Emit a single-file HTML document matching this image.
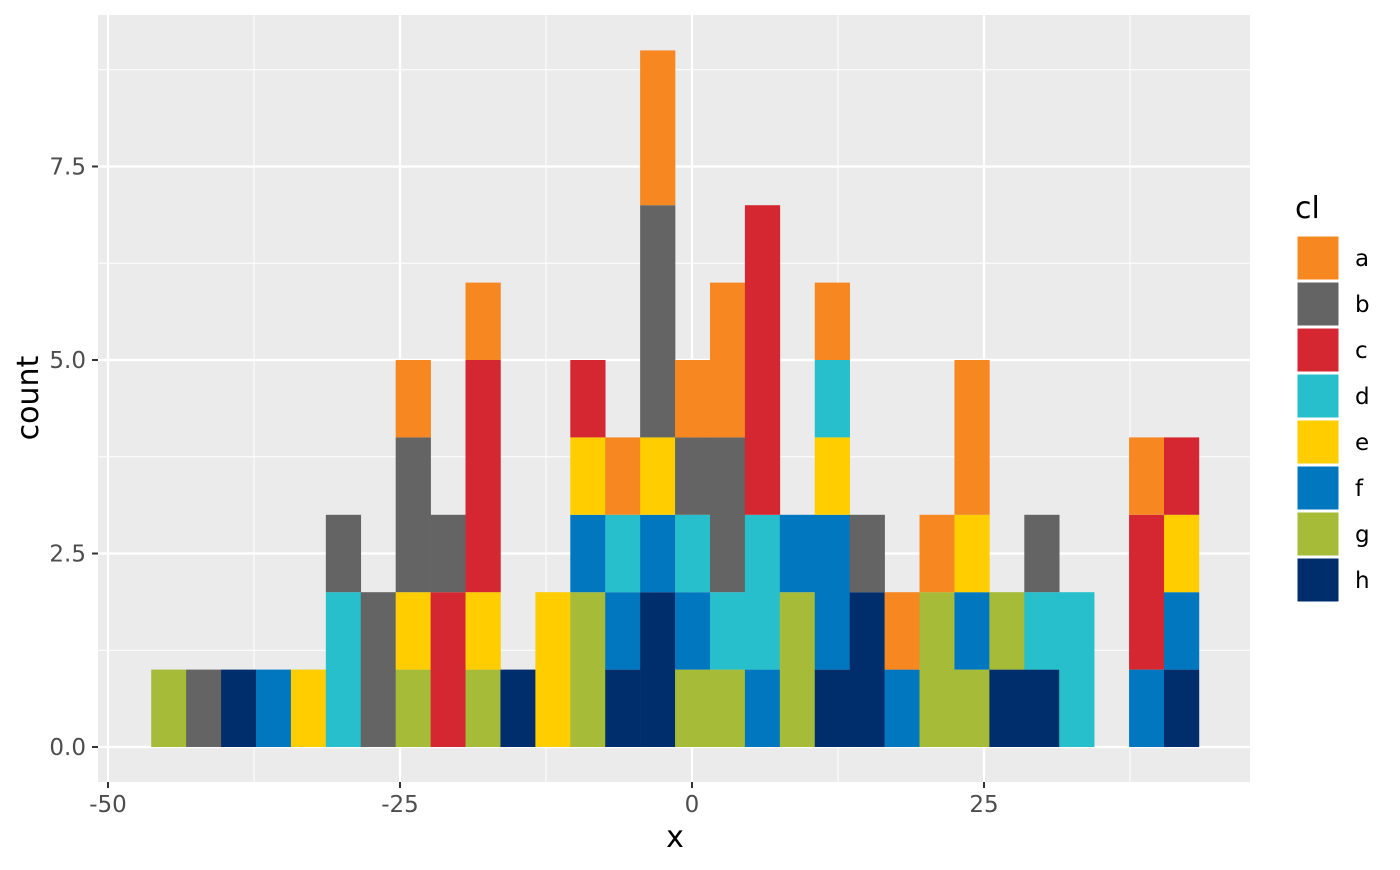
<!DOCTYPE html>
<html><head><meta charset="utf-8"><style>
body{margin:0;background:#fff;font-family:"DejaVu Sans","Liberation Sans",sans-serif;}
</style></head><body>
<svg id="chart" width="1400" height="866" xmlns="http://www.w3.org/2000/svg" font-family="DejaVu Sans, Liberation Sans, sans-serif">
<rect x="98" y="15" width="1152" height="767" fill="#ebebeb"/>
<g id="grid"></g><g id="bars"></g><g id="axes"></g><g id="legend"></g>
<text x="675" y="847" font-size="30" text-anchor="middle" fill="#000">x</text>
<text transform="translate(38,398) rotate(-90)" font-size="30" text-anchor="middle" fill="#000">count</text>
<text x="1295" y="218" font-size="30" fill="#000">cl</text>
</svg>
<script>
const categories=["a","b","c","d","e","f","g","h"];
const colors=["#f68721","#636463","#d42731","#27bfcb","#ffcd00","#0077bf","#a6bb38","#002e6c"];
const binStart=-46.3, binWidth=2.99;
const seriesA=[0,0,0,0,0,0,0,1,0,1,0,0,0,1,2,1,2,0,0,1,0,1,1,2,0,0,0,0,1,0];
const seriesB=[0,1,0,0,0,1,2,2,1,0,0,0,0,0,3,1,2,0,0,0,1,0,0,0,0,1,0,0,0,0];
const seriesC=[0,0,0,0,0,0,0,0,2,3,0,0,1,0,0,0,0,4,0,0,0,0,0,0,0,0,0,0,2,1];
const seriesD=[0,0,0,0,0,2,0,0,0,0,0,0,0,1,0,1,1,2,0,1,0,0,0,0,0,1,2,0,0,0];
const seriesE=[0,0,0,0,1,0,0,1,0,1,0,2,1,0,1,0,0,0,0,1,0,0,0,1,0,0,0,0,0,1];
const seriesF=[0,0,0,1,0,0,0,0,0,0,0,0,1,1,1,1,0,1,1,2,0,1,0,1,0,0,0,0,1,1];
const seriesG=[1,0,0,0,0,0,0,1,0,1,0,0,2,0,0,1,1,0,2,0,0,0,2,1,1,0,0,0,0,0];
const seriesH=[0,0,1,0,0,0,0,0,0,0,1,0,0,1,2,0,0,0,0,1,2,0,0,0,1,1,0,0,0,1];
const series=[seriesA,seriesB,seriesC,seriesD,seriesE,seriesF,seriesG,seriesH];
const xTicks=[-50,-25,0,25], xTickLabels=["-50","-25","0","25"];
const yTicks=[0,2.5,5,7.5], yTickLabels=["0.0","2.5","5.0","7.5"];
const NS="http://www.w3.org/2000/svg";
const X=v=>692+v*11.68, Y=v=>747-v*77.4;
function mk(p,tag,attrs){const e=document.createElementNS(NS,tag);for(const k in attrs)e.setAttribute(k,attrs[k]);p.appendChild(e);return e;}
const grid=document.getElementById('grid'),bars=document.getElementById('bars'),axes=document.getElementById('axes'),legend=document.getElementById('legend');
for(let i=0;i<xTicks.length;i++){const v=xTicks[i]+12.5;const l=mk(grid,'line',{x1:X(v),x2:X(v),y1:15,y2:782,stroke:'#fff','stroke-width':1});

}
for(let i=0;i<yTicks.length;i++){const v=yTicks[i]+1.25;const l=mk(grid,'line',{x1:98,x2:1250,y1:Y(v),y2:Y(v),stroke:'#fff','stroke-width':1});

}
xTicks.forEach((v,i)=>{const l=mk(grid,'line',{x1:X(v),x2:X(v),y1:15,y2:782,stroke:'#fff','stroke-width':2.2});


const t=mk(axes,'line',{x1:X(v),x2:X(v),y1:782,y2:788,stroke:'#333','stroke-width':2});


const tx=mk(axes,'text',{x:X(v),y:812,'font-size':23,'text-anchor':'middle',fill:'#4d4d4d'});tx.textContent=xTickLabels[i];

});
yTicks.forEach((v,i)=>{const l=mk(grid,'line',{x1:98,x2:1250,y1:Y(v),y2:Y(v),stroke:'#fff','stroke-width':2.2});


const t=mk(axes,'line',{x1:92,x2:98,y1:Y(v),y2:Y(v),stroke:'#333','stroke-width':2});


const tx=mk(axes,'text',{x:86,y:Y(v)+8,'font-size':23,'text-anchor':'end',fill:'#4d4d4d'});tx.textContent=yTickLabels[i];

});
for(let b=0;b<seriesA.length;b++){let base=0;const x0=X(binStart+b*binWidth),x1=X(binStart+(b+1)*binWidth);
for(let c=categories.length-1;c>=0;c--){const n=series[c][b];if(!n)continue;
const r=mk(bars,'rect',{x:x0,y:Y(base+n),width:x1-x0+0.3,height:Y(base)-Y(base+n),fill:colors[c]});


base+=n;}}
categories.forEach((c,i)=>{const y=236+i*46;
const r=mk(legend,'rect',{x:1297,y:y,width:42,height:44,fill:colors[i],stroke:'#fff','stroke-width':1});


const t=mk(legend,'text',{x:1355,y:y+30,'font-size':23,fill:'#000'});t.textContent=c;

});
</script>
</body></html>
